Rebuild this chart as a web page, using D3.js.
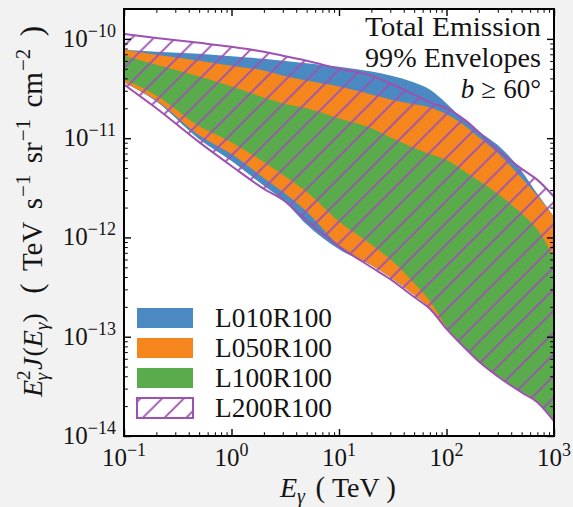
<!DOCTYPE html>
<html><head><meta charset="utf-8">
<script src="https://cdn.jsdelivr.net/npm/d3@7"></script>
<style>
html,body{margin:0;padding:0;background:#f2f2f2;}
svg{display:block;}
</style></head><body>
<svg id="chart" width="573" height="507"></svg>
<script>
// ---- data ----
const energy = [0.1,0.2,0.5,1,2,3,5,10,20,30,50,70,100,150,200,300,500,700,1000];
const l010Upper = [7.76e-11,7.41e-11,7.08e-11,6.68e-11,6.31e-11,6.03e-11,5.69e-11,5.25e-11,4.68e-11,4.27e-11,3.63e-11,3.09e-11,2.24e-11,1.48e-11,1.17e-11,8.51e-12,4.68e-12,2.75e-12,1.62e-12];
const l010Lower = [3.63e-11,2.34e-11,9.77e-12,5.89e-12,3.31e-12,2.40e-12,1.35e-12,7.59e-13,5.25e-13,3.98e-13,2.63e-13,1.95e-13,1.23e-13,7.76e-14,5.75e-14,4.07e-14,2.82e-14,2.24e-14,1.45e-14];
const l050Upper = [7.76e-11,6.92e-11,6.03e-11,5.37e-11,4.79e-11,4.27e-11,3.80e-11,3.31e-11,2.75e-11,2.45e-11,2.19e-11,2.04e-11,1.74e-11,1.32e-11,1.02e-11,7.08e-12,3.98e-12,2.63e-12,1.62e-12];
const l050Lower = [3.63e-11,2.40e-11,1.07e-11,6.92e-12,3.98e-12,2.88e-12,1.82e-12,8.32e-13,5.25e-13,3.98e-13,2.63e-13,1.95e-13,1.23e-13,7.76e-14,5.75e-14,4.07e-14,2.82e-14,2.24e-14,1.45e-14];
const l100Upper = [6.76e-11,5.50e-11,4.17e-11,3.31e-11,2.57e-11,2.24e-11,2.00e-11,1.58e-11,1.26e-11,1.02e-11,7.94e-12,6.92e-12,6.03e-12,4.57e-12,3.72e-12,2.75e-12,1.74e-12,1.20e-12,6.31e-13];
const l100Lower = [3.89e-11,2.69e-11,1.32e-11,9.12e-12,5.75e-12,4.27e-12,2.88e-12,1.45e-12,8.51e-13,6.03e-13,3.47e-13,2.29e-13,1.26e-13,7.76e-14,5.75e-14,4.07e-14,2.82e-14,2.24e-14,1.45e-14];
const l200Upper = [1.12e-10,1.02e-10,9.12e-11,8.32e-11,7.41e-11,6.76e-11,6.03e-11,5.01e-11,4.27e-11,3.55e-11,2.75e-11,2.29e-11,2.00e-11,1.51e-11,1.15e-11,7.59e-12,4.90e-12,3.80e-12,2.57e-12];
const l200Lower = [3.47e-11,2.00e-11,9.12e-12,5.25e-12,3.09e-12,2.40e-12,1.48e-12,8.13e-13,5.01e-13,3.80e-13,2.51e-13,1.91e-13,1.20e-13,7.59e-14,5.62e-14,3.98e-14,2.75e-14,2.19e-14,1.41e-14];
const seriesNames = ["L010R100","L050R100","L100R100","L200R100"];
const xTickExponents = [-1,0,1,2,3];
const yTickExponents = [-14,-13,-12,-11,-10];
const annotation = ["Total Emission","99% Envelopes"];

// ---- pick an installed serif font if there is one ----
function pickFont(){
  const c=document.createElement("canvas").getContext("2d");
  const s="L010R100 Total Emission TeV";
  const w=f=>{c.font="40px "+f;return c.measureText(s).width;};
  const base=[w("monospace"),w("sans-serif")];
  const cands=["Liberation Serif","DejaVu Serif","Noto Serif","Times New Roman","FreeSerif","Nimbus Roman","Tinos"];
  for(const f of cands){const v=w(`"${f}", monospace`);const v2=w(`"${f}", sans-serif`);
    if(Math.abs(v-base[0])>0.5 && Math.abs(v2-base[1])>0.5) return `"${f}"`;}
  return "serif";
}
const FONT=pickFont();

// ---- layout ----
const L=124,R=554,T=9,B=436;
const colors = {blue:"#4a89c2", orange:"#f5861e", green:"#5aab4b", purple:"#9d52b2"};
const svg=d3.select("#chart").attr("font-family",FONT);
const x=d3.scaleLog().domain([0.1,1000]).range([L,R]);
const y=d3.scaleLog().domain([1e-14,2e-10]).range([B,T]);

const defs=svg.append("defs");
defs.append("clipPath").attr("id","clip").append("rect").attr("x",L).attr("y",T).attr("width",R-L).attr("height",B-T);
const hs=21.7;
const pat=defs.append("pattern").attr("id","hatch").attr("patternUnits","userSpaceOnUse")
  .attr("width",hs).attr("height",hs).attr("x",18.1).attr("y",0);
pat.append("path").attr("d",`M-3,3 L3,-3 M0,${hs} L${hs},0 M${hs-3},${hs+3} L${hs+3},${hs-3}`)
  .attr("stroke",colors.purple).attr("stroke-width",1.9).attr("fill","none");

svg.append("rect").attr("x",L).attr("y",T).attr("width",R-L).attr("height",B-T).attr("fill","#fff");

const mk=(lo,hi)=>energy.map((e,i)=>({e,lo:lo[i],hi:hi[i]}));
const area=d3.area().x(d=>x(d.e)).y0(d=>y(d.lo)).y1(d=>y(d.hi)).curve(d3.curveMonotoneX);
const g=svg.append("g").attr("clip-path","url(#clip)");
g.append("path").attr("d",area(mk(l010Lower,l010Upper))).attr("fill",colors.blue);
g.append("path").attr("d",area(mk(l050Lower,l050Upper))).attr("fill",colors.orange);
g.append("path").attr("d",area(mk(l100Lower,l100Upper))).attr("fill",colors.green);
const d200=mk(l200Lower,l200Upper);
g.append("path").attr("d",area(d200)).attr("fill","url(#hatch)");
const lineU=d3.line().x(d=>x(d.e)).y(d=>y(d.hi)).curve(d3.curveMonotoneX);
const lineL=d3.line().x(d=>x(d.e)).y(d=>y(d.lo)).curve(d3.curveMonotoneX);
g.append("path").attr("d",lineU(d200)).attr("fill","none").attr("stroke",colors.purple).attr("stroke-width",2);
g.append("path").attr("d",lineL(d200)).attr("fill","none").attr("stroke",colors.purple).attr("stroke-width",2);

// ---- ticks (inward, all four sides) ----
function logTicks(lo,hi){const maj=[],min=[];for(let p=lo;p<=hi;p++){maj.push(Math.pow(10,p));if(p<hi)for(let k=2;k<10;k++)min.push(k*Math.pow(10,p));}return {maj,min};}
const xt=logTicks(-1,3), yt=logTicks(-14,-10);
yt.min.push(2e-10);
function axisSet(axisFn,scale,vals,size,w,tr){
  const a=svg.append("g").attr("transform",tr).call(axisFn(scale).tickValues(vals).tickSize(size).tickFormat(""));
  a.select(".domain").remove();
  a.selectAll("line").attr("stroke","#000").attr("stroke-width",w);
}
[[xt.maj,7,1.4],[xt.min,3.8,1]].forEach(([v,s,w])=>{
  axisSet(d3.axisBottom,x,v,-s,w,`translate(0,${B})`);
  axisSet(d3.axisTop,x,v,-s,w,`translate(0,${T})`);
});
[[yt.maj,7,1.4],[yt.min,3.8,1]].forEach(([v,s,w])=>{
  axisSet(d3.axisLeft,y,v,-s,w,`translate(${L},0)`);
  axisSet(d3.axisRight,y,v,-s,w,`translate(${R},0)`);
});
svg.append("rect").attr("x",L).attr("y",T).attr("width",R-L).attr("height",B-T)
  .attr("fill","none").attr("stroke","#000").attr("stroke-width",2);

const ink="#141414";
function txt(){return svg.append("text").attr("fill",ink).attr("font-family",FONT);}
// widen the gaps between words until the label reaches its target length
function fitGaps(t,gaps,target){
  const w=t.node().getBBox().width;
  const extra=(target-w)/gaps.length;
  gaps.forEach(s=>s.attr("dx",(+s.attr("dx")||0)+extra));
}
// tick labels
const minus="\u2212";
xTickExponents.forEach(p=>{
  const t=txt().attr("x",x(Math.pow(10,p))).attr("y",466).attr("text-anchor","middle").attr("font-size",25);
  t.append("tspan").text("10");
  t.append("tspan").attr("dy",-10).attr("font-size",18).text((p<0?minus:"")+Math.abs(p));
});
yTickExponents.forEach(p=>{
  const t=txt().attr("x",116).attr("y",y(Math.pow(10,p))+8).attr("text-anchor","end").attr("font-size",25);
  t.append("tspan").text("10");
  t.append("tspan").attr("dy",-10).attr("font-size",18).text(minus+Math.abs(p));
});

// x axis label
const xl=txt().attr("x",280).attr("y",497).attr("font-size",28);
xl.append("tspan").attr("font-style","italic").text("E");
xl.append("tspan").attr("font-style","italic").attr("font-size",20).attr("dy",6).text("\u03b3");
const xg=[];
xg.push(xl.append("tspan").attr("dy",-6).attr("dx",8).attr("font-size",29).text("("));
xg.push(xl.append("tspan").attr("dx",4).text("TeV"));
xg.push(xl.append("tspan").attr("dx",4).attr("font-size",29).text(")"));
fitGaps(xl,xg,117);

// y axis label
const yl=txt().attr("transform","translate(42,397) rotate(-90)").attr("font-size",28);
yl.append("tspan").attr("font-style","italic").text("E");
yl.append("tspan").attr("font-size",19).attr("dy",-12).text("2");
yl.append("tspan").attr("font-size",19).attr("font-style","italic").attr("dx",-10).attr("dy",18).text("\u03b3");
yl.append("tspan").attr("font-style","italic").attr("dy",-6).attr("dx",3).text("J");
yl.append("tspan").attr("dx",1).text("(");
yl.append("tspan").attr("font-style","italic").text("E");
yl.append("tspan").attr("font-size",19).attr("font-style","italic").attr("dy",6).text("\u03b3");
yl.append("tspan").attr("dy",-6).text(")");
const yg=[];
yg.push(yl.append("tspan").attr("dx",10).attr("font-size",31).text("("));
yg.push(yl.append("tspan").attr("dx",3).attr("font-size",29).text("TeV"));
yg.push(yl.append("tspan").attr("dx",3).attr("font-size",29).text("s"));
yl.append("tspan").attr("font-size",21).attr("dy",-12).attr("dx",1).text(minus+"1");
yg.push(yl.append("tspan").attr("dx",2).attr("dy",12).attr("font-size",29).text("sr"));
yl.append("tspan").attr("font-size",21).attr("dy",-12).attr("dx",1).text(minus+"1");
yg.push(yl.append("tspan").attr("dx",2).attr("dy",12).attr("font-size",29).text("cm"));
yl.append("tspan").attr("font-size",21).attr("dy",-12).attr("dx",1).text(minus+"2");
yg.push(yl.append("tspan").attr("dx",3).attr("dy",12).attr("font-size",31).text(")"));
fitGaps(yl,yg,372);

// annotation (top right)
annotation.forEach((s,i)=>{
  txt().attr("x",365).attr("y",36+i*31).attr("font-size",27).attr("textLength",176).attr("lengthAdjust","spacingAndGlyphs").text(s);
});
const bt=txt().attr("x",541).attr("y",98).attr("font-size",27).attr("text-anchor","end");
bt.append("tspan").attr("font-style","italic").text("b");
bt.append("tspan").attr("dx",7).text("\u2265");
bt.append("tspan").attr("dx",7).text("60\u00b0");

// legend
const legFills=[colors.blue,colors.orange,colors.green,null];
seriesNames.forEach((n,i)=>{
  const yy=308+i*30;
  if(legFills[i]) svg.append("rect").attr("x",137).attr("y",yy).attr("width",56).attr("height",20).attr("fill",legFills[i]);
  else {
    svg.append("rect").attr("x",137).attr("y",yy).attr("width",56).attr("height",20).attr("fill","#fff");
    svg.append("rect").attr("x",137).attr("y",yy).attr("width",56).attr("height",20).attr("fill","url(#hatch)")
      .attr("stroke",colors.purple).attr("stroke-width",2);
  }
  txt().attr("x",215).attr("y",yy+19).attr("font-size",27).attr("textLength",117).attr("lengthAdjust","spacingAndGlyphs").text(n);
});
</script>
</body></html>
